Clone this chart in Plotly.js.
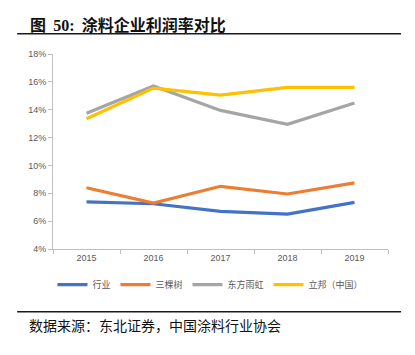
<!DOCTYPE html>
<html>
<head>
<meta charset="utf-8">
<script src="https://cdn.plot.ly/plotly-3.0.1.min.js"></script>
<style>html,body{margin:0;padding:0;background:#fff;}#chart{width:415px;height:355px;}</style>
</head>
<body>
<div id="chart"></div>
<script>
const years = ['2015', '2016', '2017', '2018', '2019'];
const industry = [7.38, 7.25, 6.7, 6.5, 7.35];
const sankeshu = [8.4, 7.3, 8.5, 7.95, 8.75];
const oriental = [13.75, 15.7, 13.95, 12.95, 14.48];
const nippon = [13.35, 15.55, 15.05, 15.6, 15.6];
const seriesNames = ['行业', '三棵树', '东方雨虹', '立邦（中国）'];
const seriesColors = ['#4472C4', '#ED7D31', '#A5A5A5', '#FFC000'];
const yTickVals = [4, 6, 8, 10, 12, 14, 16, 18];
const yTickText = yTickVals.map(v => v + '%');

const values = [industry, sankeshu, oriental, nippon];
const traces = values.map((vals, i) => ({
  x: years, y: vals, type: 'scatter', mode: 'lines', name: seriesNames[i],
  line: {color: seriesColors[i], width: 3.2}
}));

const cjk = '"Noto Sans CJK SC", sans-serif';
const layout = {
  width: 415, height: 355,
  margin: {l: 53, r: 27, t: 54, b: 106, pad: 0},
  paper_bgcolor: '#fff', plot_bgcolor: '#fff',
  font: {family: 'Liberation Sans, Arial, sans-serif', size: 9, color: '#595959'},
  showlegend: true,
  legend: {orientation: 'h', x: 0.47, xanchor: 'center', y: -0.183, yanchor: 'middle',
    font: {family: cjk, size: 9, color: '#595959'}, itemwidth: 30, tracegroupgap: 0},
  xaxis: {type: 'category', range: [-0.5, 4.5], showline: true, linecolor: '#BFBFBF', linewidth: 1,
    ticks: 'outside', tickson: 'boundaries', ticklen: 4, tickcolor: '#BFBFBF',
    showgrid: false, zeroline: false, fixedrange: true,
    tickfont: {size: 9, color: '#595959'}},
  yaxis: {range: [4, 18], tickvals: yTickVals, ticktext: yTickText, showline: true,
    linecolor: '#BFBFBF', linewidth: 1, ticks: 'outside', ticklen: 4, tickcolor: '#BFBFBF',
    showgrid: false, zeroline: false, fixedrange: true,
    tickfont: {size: 9, color: '#595959'}},
  shapes: [
    {type: 'line', xref: 'paper', yref: 'paper', x0: -0.107, x1: 1.039, y0: 1.104, y1: 1.104,
      line: {color: '#1a1a1a', width: 1.5}},
    {type: 'line', xref: 'paper', yref: 'paper', x0: -0.107, x1: 1.039, y0: -0.322, y1: -0.322,
      line: {color: '#1a1a1a', width: 1.5}}
  ],
  annotations: [
    {xref: 'paper', yref: 'paper', x: -0.075, y: 1.156, xanchor: 'left', yanchor: 'middle', showarrow: false,
      text: '<b>图\u00a0\u00a0<span style="font-family:Liberation Serif">50:</span>\u00a0\u00a0涂料企业利润率对比</b>',
      font: {family: cjk, size: 16, color: '#111'}},
    {xref: 'paper', yref: 'paper', x: -0.078, y: -0.388, xanchor: 'left', yanchor: 'middle', showarrow: false,
      text: '数据来源：东北证券，中国涂料行业协会',
      font: {family: cjk, size: 14, color: '#111'}}
  ]
};
Plotly.newPlot('chart', traces, layout, {displayModeBar: false, staticPlot: true});
</script>
</body>
</html>
